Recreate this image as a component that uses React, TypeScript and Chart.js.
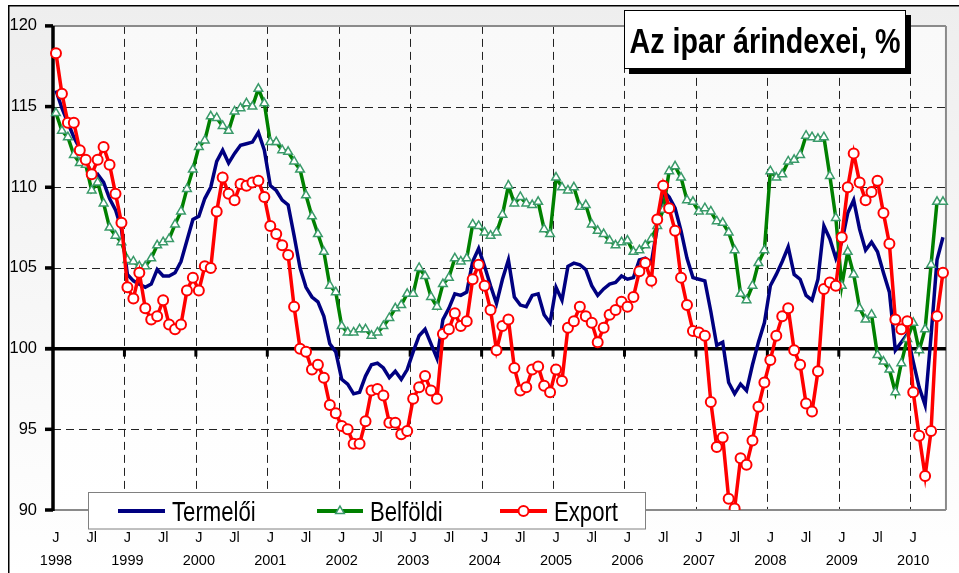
import React, { useEffect, useRef } from "react";
import { Chart, registerables } from "chart.js";

Chart.register(...registerables);

const years = [1998, 1999, 2000, 2001, 2002, 2003, 2004, 2005, 2006, 2007, 2008, 2009, 2010];
const monthMarks = ["J", "", "", "", "", "", "Jl", "", "", "", "", ""];
const monthCount = 150; // Jan 1998 .. Jun 2010

const termeloi = [
  116.0, 114.9, 114.0, 113.1, 112.4, 111.7, 110.6, 110.8, 110.3, 109.3, 108.6, 107.4,
  104.6, 104.2, 104.0, 103.8, 104.0, 104.9, 104.5, 104.5, 104.7, 105.4, 106.7, 108.0,
  108.2, 109.3, 110.0, 111.6, 112.3, 111.5, 112.1, 112.6, 112.7, 112.8, 113.4, 112.3,
  110.1, 109.8, 109.2, 108.9, 107.0, 105.0, 103.8, 103.2, 102.9, 102.0, 100.3, 99.8,
  98.1, 97.8, 97.2, 97.3, 98.3, 99.0, 99.1, 98.8, 98.2, 98.6, 98.1, 98.7,
  99.8, 100.8, 101.2, 100.3, 99.4, 101.8, 102.5, 103.4, 103.3, 103.5, 105.4, 106.2,
  105.1, 103.9, 102.8, 104.3, 105.5, 103.2, 102.7, 102.6, 103.3, 103.4, 102.1, 101.6,
  103.8, 103.0, 105.1, 105.3, 105.2, 104.9, 103.9, 103.3, 103.7, 104.0, 104.1, 104.5,
  104.3, 104.4, 105.5, 105.6, 105.3, 107.5, 109.8, 109.4, 108.7, 107.3, 105.6, 104.4,
  104.3, 104.2, 102.3, 100.2, 100.4, 97.9, 97.2, 97.8, 97.4, 99.0, 100.4, 101.6,
  103.9, 104.6, 105.4, 106.3, 104.6, 104.3, 103.3, 103.0, 104.3, 107.6, 106.8, 105.6,
  106.6, 108.4, 109.2, 107.4, 106.1, 106.6, 106.0, 104.7, 103.5, 99.9, 100.4, 100.9,
  99.2, 97.6, 96.5, 100.8, 105.5, 106.9,
];

const belfoldi = [
  114.6, 113.5, 113.1, 112.0, 111.5, 111.4, 109.8, 110.3, 109.0, 107.5, 107.0, 106.6,
  105.5, 105.4, 105.1, 105.1, 105.6, 106.4, 106.6, 106.8, 107.7, 108.5, 109.9, 111.1,
  112.5, 112.9, 114.4, 114.3, 113.8, 113.5, 114.7, 114.9, 115.2, 115.0, 116.1, 115.2,
  112.8, 112.8, 112.3, 112.2, 111.6, 111.1, 109.5, 108.2, 107.1, 106.0, 103.9, 103.5,
  101.4, 101.0, 101.0, 101.2, 101.2, 100.8, 101.0, 101.4, 101.9, 102.5, 102.7, 103.4,
  103.4, 105.0, 104.5, 103.2, 102.6, 104.0, 104.4, 105.6, 105.4, 105.6, 107.7, 107.6,
  107.2, 107.0, 107.2, 108.3, 110.1, 109.0, 109.4, 109.0, 108.9, 109.1, 107.4, 107.1,
  110.6, 110.0, 109.8, 110.0, 108.8, 108.9, 107.7, 107.3, 107.1, 106.7, 106.4, 106.6,
  106.7, 106.0, 106.1, 106.4, 106.8, 107.6, 108.6, 111.0, 111.3, 110.6, 109.2, 109.1,
  108.5, 108.7, 108.5, 107.9, 107.8, 107.2, 106.1, 103.4, 103.0, 103.9, 105.3, 106.1,
  111.0, 110.6, 110.8, 111.6, 111.7, 112.0, 113.2, 113.1, 113.0, 113.1, 110.7, 108.1,
  103.9, 106.0, 104.6, 102.5, 101.8, 102.1, 99.6, 99.2, 98.7, 97.3, 99.1, 100.6,
  101.6, 99.9, 101.2, 105.2, 109.1, 109.1,
];

const exportIdx = [
  118.3, 115.8, 114.0, 114.0, 112.3, 111.7, 110.8, 111.7, 112.5, 111.4, 109.6, 107.8,
  103.8, 103.1, 104.7, 102.5, 101.8, 102.0, 103.0, 101.5, 101.2, 101.5, 103.6, 104.4,
  103.6, 105.1, 105.0, 108.5, 110.6, 109.6, 109.2, 110.2, 110.1, 110.3, 110.4, 109.4,
  107.6, 107.1, 106.4, 105.8, 102.6, 100.0, 99.8, 98.7, 99.0, 98.2, 96.5, 96.0,
  95.2, 95.0, 94.1, 94.1, 95.5, 97.4, 97.5, 97.1, 95.4, 95.4, 94.7, 94.9,
  96.9, 97.6, 98.3, 97.4, 96.9, 100.9, 101.2, 102.2, 101.4, 101.7, 104.3, 105.2,
  103.9, 102.4, 99.9, 101.4, 101.8, 98.8, 97.4, 97.6, 98.7, 98.9, 97.7, 97.3,
  98.7, 98.0, 101.3, 101.7, 102.6, 102.0, 101.6, 100.4, 101.3, 102.1, 102.4, 102.9,
  102.6, 103.2, 104.8, 105.3, 104.2, 108.0, 110.1, 108.7, 107.3, 104.4, 102.7, 101.1,
  101.0, 100.8, 96.7, 93.9, 94.5, 90.7, 90.1, 93.2, 92.8, 94.3, 96.4, 97.9,
  99.3, 100.8, 102.0, 102.5, 99.9, 99.0, 96.6, 96.1, 98.6, 103.7, 104.1, 103.9,
  106.9, 110.0, 112.1, 110.3, 109.2, 109.7, 110.4, 108.4, 106.5, 101.8, 101.2, 101.7,
  97.3, 94.6, 92.1, 94.9, 102.0, 104.7,
];

const yMin = 90;
const yMax = 120;
const yStep = 5;
const baseLine = 100;
const titleText = "Az ipar árindexei, %";
const seriesNames = ["Termelői", "Belföldi", "Export"];

const REG = '"Liberation Sans", Arial, sans-serif';

const labels: (string | string[])[] = [];
for (let i = 0; i < monthCount; i++) {
  const m = i % 12;
  const yr = years[Math.floor(i / 12)];
  if (m === 0) labels.push([monthMarks[m], String(yr)]);
  else labels.push(monthMarks[m]);
}

function line(ctx: CanvasRenderingContext2D, x1: number, y1: number, x2: number, y2: number) {
  ctx.beginPath();
  ctx.moveTo(x1, y1);
  ctx.lineTo(x2, y2);
  ctx.stroke();
}

function narrowText(
  ctx: CanvasRenderingContext2D,
  text: string,
  x: number,
  y: number,
  sx: number,
  align: CanvasTextAlign
) {
  ctx.save();
  ctx.translate(x, y);
  ctx.scale(sx, 1);
  ctx.textAlign = align;
  ctx.textBaseline = "alphabetic";
  ctx.fillText(text, 0, 0);
  ctx.restore();
}

const decorPlugin = {
  id: "decor",
  beforeDraw(chart: any) {
    const { ctx, chartArea: ca, width, height } = chart;
    ctx.save();
    ctx.fillStyle = "#ffffff";
    ctx.fillRect(0, 0, width, height);
    const g = ctx.createLinearGradient(0, 5, 0, height);
    g.addColorStop(0, "#eeeeee");
    g.addColorStop(1, "#ffffff");
    ctx.fillStyle = g;
    ctx.fillRect(8, 5, width - 8, height - 5);
    const g2 = ctx.createLinearGradient(0, ca.top, 0, ca.bottom);
    g2.addColorStop(0, "#f9f9f9");
    g2.addColorStop(1, "#ffffff");
    ctx.fillStyle = g2;
    ctx.fillRect(ca.left, ca.top, ca.right - ca.left, ca.bottom - ca.top);
    ctx.restore();
  },
  beforeDatasetsDraw(chart: any) {
    const { ctx, chartArea: ca, scales } = chart;
    const x = scales.x;
    const y = scales.y;
    ctx.save();
    ctx.strokeStyle = "#222222";
    ctx.lineWidth = 1;
    ctx.setLineDash([8, 5]);
    for (let v = yMin + yStep; v < yMax; v += yStep) {
      if (v === baseLine) continue;
      const py = Math.round(y.getPixelForValue(v)) + 0.5;
      line(ctx, ca.left, py, ca.right, py);
    }
    const bounds: number[] = [];
    for (let i = 12; i < monthCount; i += 12) {
      bounds.push((x.getPixelForValue(i - 1) + x.getPixelForValue(i)) / 2);
    }
    for (const bx of bounds) {
      const px = Math.round(bx) + 0.5;
      line(ctx, px, ca.top, px, ca.bottom);
    }
    ctx.setLineDash([]);
    ctx.strokeStyle = "#8a8a8a";
    ctx.lineWidth = 2;
    line(ctx, ca.left, ca.top, ca.right, ca.top);
    line(ctx, ca.right, ca.top, ca.right, ca.bottom);
    line(ctx, ca.left, ca.bottom, ca.right, ca.bottom);
    const y100 = y.getPixelForValue(baseLine);
    ctx.strokeStyle = "#000000";
    ctx.lineWidth = 3.5;
    line(ctx, ca.left - 8, y100, ca.right, y100);
    ctx.fillStyle = "#000000";
    for (const bx of bounds) ctx.fillRect(bx - 1.5, y100, 3, 8);
    line(ctx, ca.left, ca.top, ca.left, ca.bottom + 1);
    for (let v = yMin; v <= yMax; v += yStep) {
      const py = y.getPixelForValue(v);
      ctx.fillRect(ca.left - 8, py - 1.75, 8, 3.5);
    }
    ctx.restore();
  },
  afterDraw(chart: any) {
    const { ctx, width, height } = chart;
    const dsets = chart.data.datasets;
    ctx.save();
    // legend
    ctx.fillStyle = "#ffffff";
    ctx.fillRect(88.5, 492.5, 557, 36.5);
    ctx.strokeStyle = "#808080";
    ctx.lineWidth = 1;
    ctx.strokeRect(88.5, 492.5, 557, 36.5);
    const ly = 511;
    const items = [
      { x1: 118, x2: 165, tx: 172 },
      { x1: 317, x2: 363, tx: 370 },
      { x1: 500, x2: 547, tx: 554 },
    ];
    items.forEach((it, k) => {
      const ds = dsets[k];
      ctx.strokeStyle = ds.borderColor;
      ctx.lineWidth = 4;
      line(ctx, it.x1, ly, it.x2, ly);
      const cx = (it.x1 + it.x2) / 2;
      if (k === 1) {
        const r = ds.pointRadius;
        ctx.fillStyle = ds.pointBackgroundColor;
        ctx.strokeStyle = ds.pointBorderColor;
        ctx.lineWidth = ds.pointBorderWidth;
        ctx.beginPath();
        ctx.moveTo(cx, ly - r);
        ctx.lineTo(cx + r * 0.866, ly + r * 0.5);
        ctx.lineTo(cx - r * 0.866, ly + r * 0.5);
        ctx.closePath();
        ctx.fill();
        ctx.stroke();
      } else if (k === 2) {
        ctx.fillStyle = ds.pointBackgroundColor;
        ctx.strokeStyle = ds.pointBorderColor;
        ctx.lineWidth = ds.pointBorderWidth;
        ctx.beginPath();
        ctx.arc(cx, ly, ds.pointRadius, 0, Math.PI * 2);
        ctx.fill();
        ctx.stroke();
      }
      ctx.fillStyle = "#000000";
      ctx.font = `27px ${REG}`;
      narrowText(ctx, seriesNames[k], it.tx, 521, 0.82, "left");
    });
    // title box
    ctx.fillStyle = "#000000";
    ctx.fillRect(629, 15, 282, 59);
    ctx.fillStyle = "#ffffff";
    ctx.fillRect(624, 10, 282, 59);
    ctx.strokeStyle = "#000000";
    ctx.lineWidth = 1;
    ctx.strokeRect(624.5, 10.5, 281, 58);
    ctx.fillStyle = "#000000";
    ctx.font = `bold 35px ${REG}`;
    const tw = ctx.measureText(titleText).width;
    narrowText(ctx, titleText, 765, 53, Math.min(1, 271 / tw), "center");
    // outer frame
    ctx.fillRect(8, 5, width - 8, 1.5);
    ctx.fillRect(8, 5, 1.5, height - 5);
    ctx.restore();
  },
};

export default function App() {
  const ref = useRef<HTMLCanvasElement | null>(null);
  useEffect(() => {
    if (!ref.current) return;
    const chart = new Chart(ref.current, {
      type: "line",
      data: {
        labels,
        datasets: [
          {
            label: seriesNames[0],
            data: termeloi,
            borderColor: "#000080",
            backgroundColor: "#000080",
            borderWidth: 3.5,
            pointRadius: 0,
            tension: 0,
            order: 2,
          },
          {
            label: seriesNames[1],
            data: belfoldi,
            borderColor: "#008000",
            backgroundColor: "#008000",
            borderWidth: 3.5,
            pointStyle: "triangle",
            pointRadius: 5,
            pointBorderColor: "#3a9a6a",
            pointBackgroundColor: "#ffffff",
            pointBorderWidth: 1.5,
            tension: 0,
            order: 1,
          },
          {
            label: seriesNames[2],
            data: exportIdx,
            borderColor: "#ff0000",
            backgroundColor: "#ff0000",
            borderWidth: 3.5,
            pointStyle: "circle",
            pointRadius: 5,
            pointBorderColor: "#ff0000",
            pointBackgroundColor: "#ffffff",
            pointBorderWidth: 2,
            tension: 0,
            order: 0,
          },
        ] as any,
      },
      options: {
        animation: false,
        responsive: false,
        devicePixelRatio: 1,
        events: [],
        layout: { padding: { top: 22, right: 6, left: 0, bottom: 0 } },
        plugins: { legend: { display: false }, tooltip: { enabled: false } },
        scales: {
          x: {
            type: "category",
            offset: true,
            grid: { display: false, drawTicks: false },
            border: { display: false },
            ticks: {
              autoSkip: false,
              maxRotation: 0,
              minRotation: 0,
              padding: 16,
              color: "#000000",
              font: { family: REG, size: 14.5, lineHeight: 1.6 },
            },
            afterFit: (s: any) => {
              s.height = 63;
            },
          },
          y: {
            min: yMin,
            max: yMax,
            grid: { display: false, drawTicks: false },
            border: { display: false },
            ticks: {
              stepSize: yStep,
              padding: 16,
              color: "#000000",
              font: { family: REG, size: 16.5 },
            },
            afterFit: (s: any) => {
              s.width = 53;
            },
          },
        },
      } as any,
      plugins: [decorPlugin],
    });
    return () => chart.destroy();
  }, []);
  return (
    <div style={{ position: "fixed", left: 0, top: 0, width: 959, height: 573 }}>
      <canvas ref={ref} width={959} height={573} style={{ width: 959, height: 573, display: "block" }} />
    </div>
  );
}
